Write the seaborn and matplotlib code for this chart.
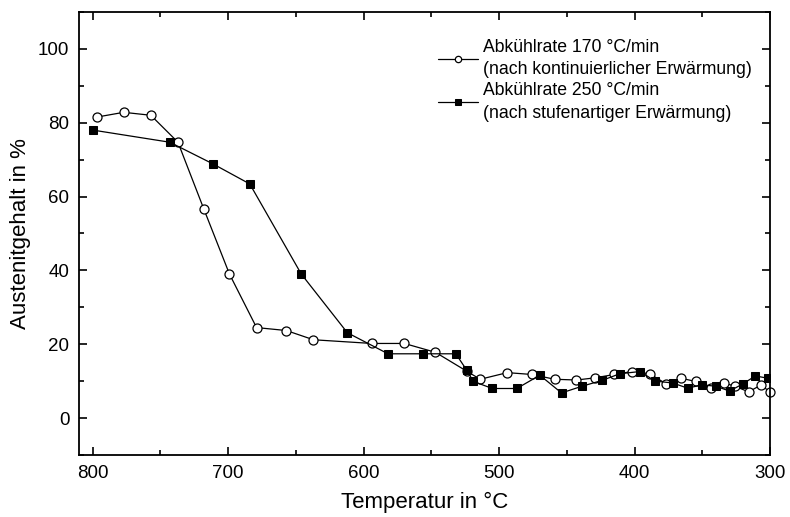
import matplotlib
matplotlib.use('Agg')
import matplotlib.pyplot as plt
from matplotlib.ticker import MultipleLocator
import seaborn as sns
import pandas as pd

# Abkühlrate 170 °C/min (kontinuierliche Erwärmung)
temp_170 = [797, 777, 757, 737, 718, 699, 679, 657, 637, 594, 570, 547, 524, 514, 494,
            476, 459, 443, 429, 415, 402, 389, 377, 366, 355, 344, 334, 326, 316, 307, 300]
aust_170 = [81.5, 82.8, 82, 74.7, 56.7, 39, 24.5, 23.7, 21.2, 20.2, 20.2, 17.8, 12.7, 10.5, 12.3,
            11.8, 10.5, 10.3, 10.9, 11.8, 12.6, 12, 9.3, 10.8, 9.9, 8, 9.5, 8.6, 7.1, 8.9, 7.1]

# Abkühlrate 250 °C/min (stufenartige Erwärmung)
temp_250 = [800, 743, 711, 684, 646, 612, 582, 556, 532, 524, 519, 505, 487, 470, 454,
            439, 424, 411, 396, 385, 372, 361, 350, 340, 330, 320, 311, 302]
aust_250 = [78, 74.7, 68.8, 63.4, 39, 23.1, 17.4, 17.4, 17.4, 13, 9.9, 8, 8, 11.6, 6.8,
            8.6, 10.2, 12, 12.6, 10, 9.5, 8.1, 9, 8.6, 7.3, 9.3, 11.4, 10.8]

label_170 = 'Abkühlrate 170 °C/min\n(nach kontinuierlicher Erwärmung)'
label_250 = 'Abkühlrate 250 °C/min\n(nach stufenartiger Erwärmung)'

df1 = pd.DataFrame({'T': temp_170, 'A': aust_170})
df2 = pd.DataFrame({'T': temp_250, 'A': aust_250})

sns.set_theme(style='ticks')
plt.rcParams['font.family'] = ['Liberation Sans', 'DejaVu Sans']
plt.rcParams['text.color'] = 'black'
plt.rcParams['axes.labelcolor'] = 'black'
plt.rcParams['xtick.color'] = 'black'
plt.rcParams['ytick.color'] = 'black'
plt.rcParams['axes.edgecolor'] = 'black'

fig = plt.figure(figsize=(7.9, 5.17), dpi=100)
ax = fig.add_axes([0.1, 0.12, 0.875, 0.857])

sns.lineplot(data=df1, x='T', y='A', ax=ax, color='black', linewidth=0.9,
             marker='o', markersize=6.5, markerfacecolor='white', markeredgecolor='black',
             markeredgewidth=0.9, sort=False, label=label_170, clip_on=False)
sns.lineplot(data=df2, x='T', y='A', ax=ax, color='black', linewidth=0.9,
             marker='s', markersize=6, markerfacecolor='black', markeredgecolor='black',
             sort=False, label=label_250)

ax.set_xlim(810, 300)
ax.set_ylim(-10, 110)
ax.xaxis.set_major_locator(MultipleLocator(100))
ax.xaxis.set_minor_locator(MultipleLocator(50))
ax.yaxis.set_major_locator(MultipleLocator(20))
ax.yaxis.set_minor_locator(MultipleLocator(10))
ax.set_yticks([0, 20, 40, 60, 80, 100])
ax.tick_params(which='both', direction='in', top=True, right=True, width=1.2, labelsize=13.5)
ax.tick_params(which='major', length=6, pad=7)
ax.tick_params(which='minor', length=3.5)
for s in ax.spines.values():
    s.set_linewidth(1.3)
    s.set_visible(True)

ax.set_xlabel('Temperatur in °C', fontsize=16, labelpad=7)
ax.set_ylabel('Austenitgehalt in %', fontsize=16, labelpad=5)

leg = ax.legend(loc='upper right', frameon=False, fontsize=12.7, handlelength=2.27,
                handletextpad=0.3, labelspacing=0.25, markerscale=0.7,
                bbox_to_anchor=(0.997, 0.975))
for t in leg.get_texts():
    t.set_linespacing(1.4)

fig.savefig('out.png', dpi=100)
